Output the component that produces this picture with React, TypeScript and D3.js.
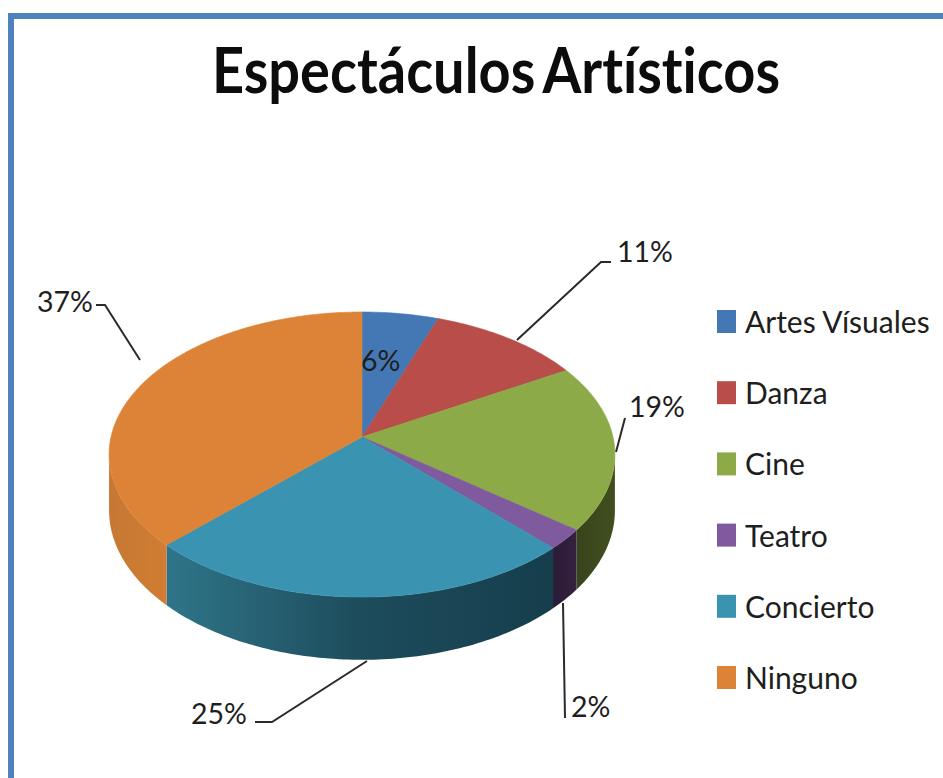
import React from "react";
import * as d3 from "d3";

const categories = ["Artes Vísuales", "Danza", "Cine", "Teatro", "Concierto", "Ninguno"];
const values = [5.5, 11.1, 18.9, 2.3, 24.8, 37.4];
const percentLabels = ["6%", "11%", "19%", "2%", "25%", "37%"];
const topColors = ["#4478b4", "#b94d4a", "#8cab48", "#7f5a9e", "#3a93b0", "#dc8338"];
const sideStops = [
  ["#2c4a70", "#2c4a70"],
  ["#6f2d2b", "#6f2d2b"],
  ["#37441b", "#414f1f"],
  ["#2b1c38", "#33213f"],
  ["#2f7589", "#1d4c5c", "#163e4c"],
  ["#c67833", "#d17d33"],
];

const FONT = "Lato, 'Open Sans', sans-serif";
const INK = "#1e1e1e";
const cx = 362, cy = 437;
const sx = 251, sy = 140.4, k = 0.123, depth = 55;
const rad = Math.PI / 180;

// perspective projection of the unit disc onto the tilted pie
const project = (deg: number, drop = 0): [number, number] => {
  const X = Math.sin(deg * rad), Y = Math.cos(deg * rad);
  const d = 1 + k * Y;
  return [cx + (sx * X) / d, cy - (sy * Y) / d + (drop * depth) / d];
};
const path = d3.line();
const sweep = (a: number, b: number, drop = 0) => {
  const n = Math.max(2, Math.ceil(Math.abs(b - a)));
  return d3.range(n + 1).map((i) => project(a + ((b - a) * i) / n, drop));
};

const pie = d3.pie<number>().sort(null).value((d) => d);
const slices = pie(values).map((s) => ({ ...s, a: s.startAngle / rad, b: s.endAngle / rad }));

const VISIBLE_FROM = 97, VISIBLE_TO = 263;

const legendY = d3.scaleLinear().domain([0, 5]).range([322, 678]);

const leaders: [number, number][][] = [
  [[517, 340], [601, 262], [611, 262]],
  [[616, 452], [625, 418]],
  [[563, 603], [565, 718]],
  [[367, 661], [272, 722], [255, 722]],
  [[140, 360], [105, 305], [96, 305]],
];
const labelPos: [number, number][] = [
  [361, 371], [617, 262], [629, 417], [571, 717], [191, 724], [37, 312],
];

export default function App() {
  return (
    <svg
      width={943}
      height={778}
      viewBox="0 0 943 778"
      style={{ position: "absolute", left: 0, top: 0, background: "#fff" }}
    >
      <defs>
        {slices.map((s, i) => {
          const from = Math.max(s.a, VISIBLE_FROM), to = Math.min(s.b, VISIBLE_TO);
          if (to <= from) return null;
          const x1 = project(from)[0], x2 = project(to)[0];
          const stops = sideStops[i];
          return (
            <linearGradient key={i} id={`side${i}`} gradientUnits="userSpaceOnUse"
              x1={Math.min(x1, x2)} x2={Math.max(x1, x2)} y1={0} y2={0}>
              {stops.map((c, j) => (
                <stop key={j} offset={j / (stops.length - 1)} stopColor={c} />
              ))}
            </linearGradient>
          );
        })}
      </defs>

      {/* frame */}
      <rect x={8} y={13} width={6} height={765} fill="#4f81bd" />
      <rect x={8} y={13} width={935} height={6} fill="#4f81bd" />

      <text x={212} y={93} fontFamily={FONT} fontWeight={700} fontSize={63} fill="#0c0c0c"
        wordSpacing={-5} style={{ fontVariantLigatures: "none" }}
        textLength={568} lengthAdjust="spacingAndGlyphs">
        Espectáculos Artísticos
      </text>

      {/* side walls */}
      {slices.map((s, i) => {
        const from = Math.max(s.a, VISIBLE_FROM), to = Math.min(s.b, VISIBLE_TO);
        if (to <= from) return null;
        const pts = [...sweep(from, to, 0), ...sweep(to, from, 1)];
        return <path key={i} d={path(pts) + "Z"} fill={`url(#side${i})`} />;
      })}

      {/* top faces */}
      {slices.map((s, i) => (
        <path key={i} d={path([[cx, cy], ...sweep(s.a, s.b, 0)]) + "Z"}
          fill={topColors[i]} stroke={topColors[i]} strokeWidth={0.6} />
      ))}

      {/* leader lines */}
      {leaders.map((l, i) => (
        <path key={i} d={path(l) as string} fill="none" stroke="#2a2a2a" strokeWidth={2} />
      ))}

      {/* percent labels */}
      {percentLabels.map((t, i) => (
        <text key={i} x={labelPos[i][0]} y={labelPos[i][1]} fontFamily={FONT} fontSize={28.5} fill={INK}>
          {t}
        </text>
      ))}

      {/* legend */}
      {categories.map((c, i) => (
        <g key={c}>
          <rect x={717} y={legendY(i) - 12} width={19} height={23} fill={topColors[i]} />
          <text x={745} y={legendY(i) + 11} fontFamily={FONT} fontSize={30} fill={INK}>
            {c}
          </text>
        </g>
      ))}
    </svg>
  );
}
